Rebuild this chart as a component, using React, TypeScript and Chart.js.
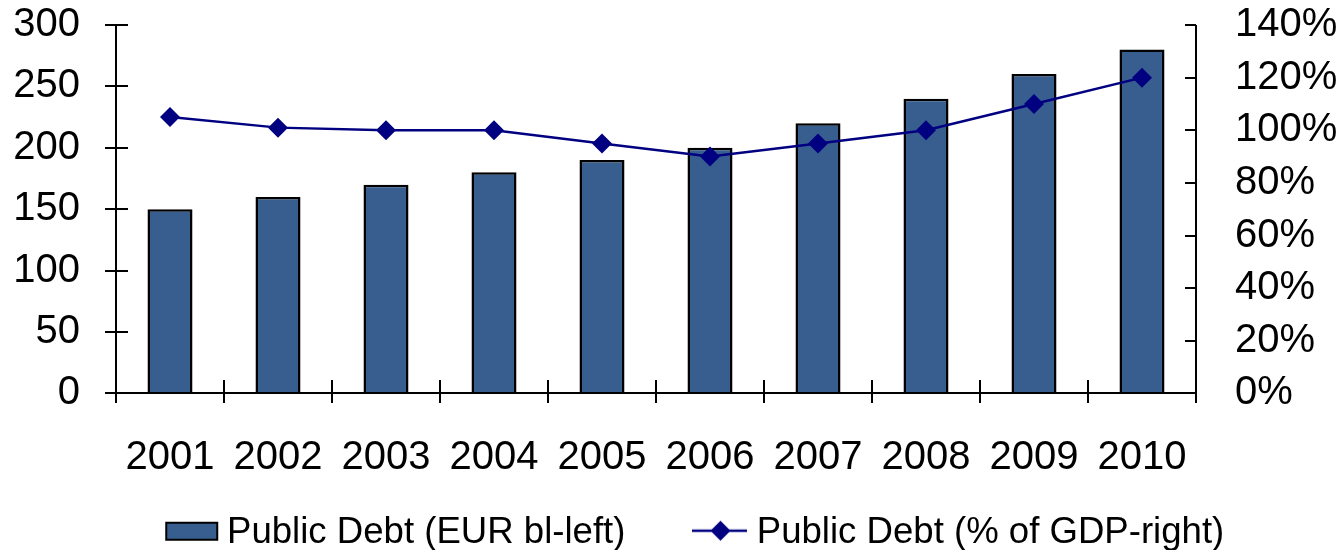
import React, { useEffect, useRef } from 'react';
import { Chart, registerables } from 'chart.js';

Chart.register(...registerables);

const years = ['2001', '2002', '2003', '2004', '2005', '2006', '2007', '2008', '2009', '2010'];
const debtEur = [150, 160, 170, 180, 190, 200, 220, 240, 260, 280];
const debtGdp = [105, 101, 100, 100, 95, 90, 95, 100, 110, 120];
const leftAxis = { min: 0, max: 300, step: 50 };
const rightAxis = { min: 0, max: 140, step: 20 };
const seriesNames = ['Public Debt (EUR bl-left)', 'Public Debt (% of GDP-right)'];

const BAR_COLOR = '#375E8F';
const LINE_COLOR = '#000080';

function makeBarIcon(): HTMLCanvasElement {
  const c = document.createElement('canvas');
  c.width = 112;
  c.height = 40;
  const g = c.getContext('2d')!;
  g.fillStyle = BAR_COLOR;
  g.fillRect(59, 10, 51, 17);
  g.strokeStyle = '#000';
  g.lineWidth = 2;
  g.strokeRect(59, 10, 51, 17);
  return c;
}

function makeLineIcon(): HTMLCanvasElement {
  const c = document.createElement('canvas');
  c.width = 108;
  c.height = 40;
  const g = c.getContext('2d')!;
  g.strokeStyle = LINE_COLOR;
  g.lineWidth = 2.5;
  g.beginPath();
  g.moveTo(53, 18);
  g.lineTo(108, 18);
  g.stroke();
  g.fillStyle = LINE_COLOR;
  const cx = 81.5;
  const cy = 18;
  const r = 10;
  g.beginPath();
  g.moveTo(cx, cy - r);
  g.lineTo(cx + r, cy);
  g.lineTo(cx, cy + r);
  g.lineTo(cx - r, cy);
  g.closePath();
  g.fill();
  return c;
}

const excelAxes = {
  id: 'excelAxes',
  afterDatasetsDraw(chart: any) {
    const { ctx, chartArea: a, scales } = chart;
    const xs = scales.x;
    const yl = scales.y;
    const yr = scales.y1;
    ctx.save();
    ctx.strokeStyle = '#000';
    ctx.lineWidth = 2;
    ctx.beginPath();
    const L = Math.round(a.left);
    const R = Math.round(a.right);
    const B = Math.round(a.bottom);
    ctx.moveTo(L, a.top);
    ctx.lineTo(L, B + 10);
    ctx.moveTo(R, a.top);
    ctx.lineTo(R, B + 10);
    ctx.moveTo(L - 11, B);
    ctx.lineTo(R, B);
    yl.ticks.forEach((_: any, i: number) => {
      const py = Math.round(yl.getPixelForTick(i));
      ctx.moveTo(L - 11, py);
      ctx.lineTo(L + 12, py);
    });
    yr.ticks.forEach((_: any, i: number) => {
      const py = Math.round(yr.getPixelForTick(i));
      ctx.moveTo(R - 11, py);
      ctx.lineTo(R, py);
    });
    const n = xs.ticks.length;
    for (let i = 0; i <= n; i++) {
      const px = Math.round(a.left + ((a.right - a.left) * i) / n);
      ctx.moveTo(px, B - 13);
      ctx.lineTo(px, B + 10);
    }
    ctx.stroke();
    ctx.restore();
  },
};

export default function App() {
  const ref = useRef<HTMLCanvasElement | null>(null);

  useEffect(() => {
    if (!ref.current) return;
    Chart.defaults.font.family = "'Liberation Sans', Arial, sans-serif";
    const barIcon = makeBarIcon();
    const lineIcon = makeLineIcon();
    const tickFont = { size: 40 };

    const chart = new Chart(ref.current, {
      type: 'bar',
      data: {
        labels: years,
        datasets: [
          {
            type: 'line',
            label: seriesNames[1],
            data: debtGdp,
            yAxisID: 'y1',
            borderColor: LINE_COLOR,
            borderWidth: 2.5,
            backgroundColor: LINE_COLOR,
            pointStyle: 'rectRot',
            pointRadius: 10,
            pointBorderWidth: 0,
            pointBackgroundColor: LINE_COLOR,
            tension: 0,
            order: 0,
          } as any,
          {
            type: 'bar',
            label: seriesNames[0],
            data: debtEur,
            yAxisID: 'y',
            backgroundColor: BAR_COLOR,
            borderColor: '#000',
            borderWidth: 2.5,
            barPercentage: 0.417,
            categoryPercentage: 1.0,
            order: 1,
          } as any,
        ],
      },
      options: {
        responsive: true,
        maintainAspectRatio: false,
        animation: false,
        layout: { padding: { top: 25, bottom: -11, left: 0, right: 0 } },
        plugins: {
          tooltip: { enabled: false },
          legend: {
            position: 'bottom',
            align: 'center',
            fullSize: true,
            labels: {
              usePointStyle: true,
              pointStyleWidth: 91,
              boxHeight: 36.6,
              padding: 22,
              color: '#000',
              font: { size: 36.6 },
              generateLabels: () => [
                { text: seriesNames[0], pointStyle: barIcon, datasetIndex: 1, hidden: false, fillStyle: BAR_COLOR, strokeStyle: '#000', lineWidth: 0 },
                { text: seriesNames[1], pointStyle: lineIcon, datasetIndex: 0, hidden: false, fillStyle: LINE_COLOR, strokeStyle: LINE_COLOR, lineWidth: 0 },
              ] as any,
            },
          },
        },
        scales: {
          x: {
            grid: { display: false, drawTicks: true, tickLength: 41 },
            border: { display: false },
            ticks: { font: tickFont, color: '#000', padding: 0, maxRotation: 0, autoSkip: false },
            afterFit: (s: any) => {
              s.height = 99;
            },
          },
          y: {
            position: 'left',
            min: leftAxis.min,
            max: leftAxis.max,
            grid: { display: false, drawTicks: true, tickLength: 36 },
            border: { display: false },
            ticks: { stepSize: leftAxis.step, font: tickFont, color: '#000', padding: 0, autoSkip: false },
            afterFit: (s: any) => {
              s.width = 116;
            },
          },
          y1: {
            position: 'right',
            min: rightAxis.min,
            max: rightAxis.max,
            grid: { display: false, drawTicks: true, tickLength: 39 },
            border: { display: false },
            ticks: {
              stepSize: rightAxis.step,
              font: tickFont,
              color: '#000',
              padding: 0,
              autoSkip: false,
              callback: (v: any) => `${v}%`,
            },
            afterFit: (s: any) => {
              s.width = 146;
            },
          },
        },
      } as any,
      plugins: [excelAxes],
    });
    return () => chart.destroy();
  }, []);

  return (
    <div style={{ position: 'fixed', left: 0, top: 0, width: 1342, height: 550, background: '#fff' }}>
      <canvas ref={ref} />
    </div>
  );
}
